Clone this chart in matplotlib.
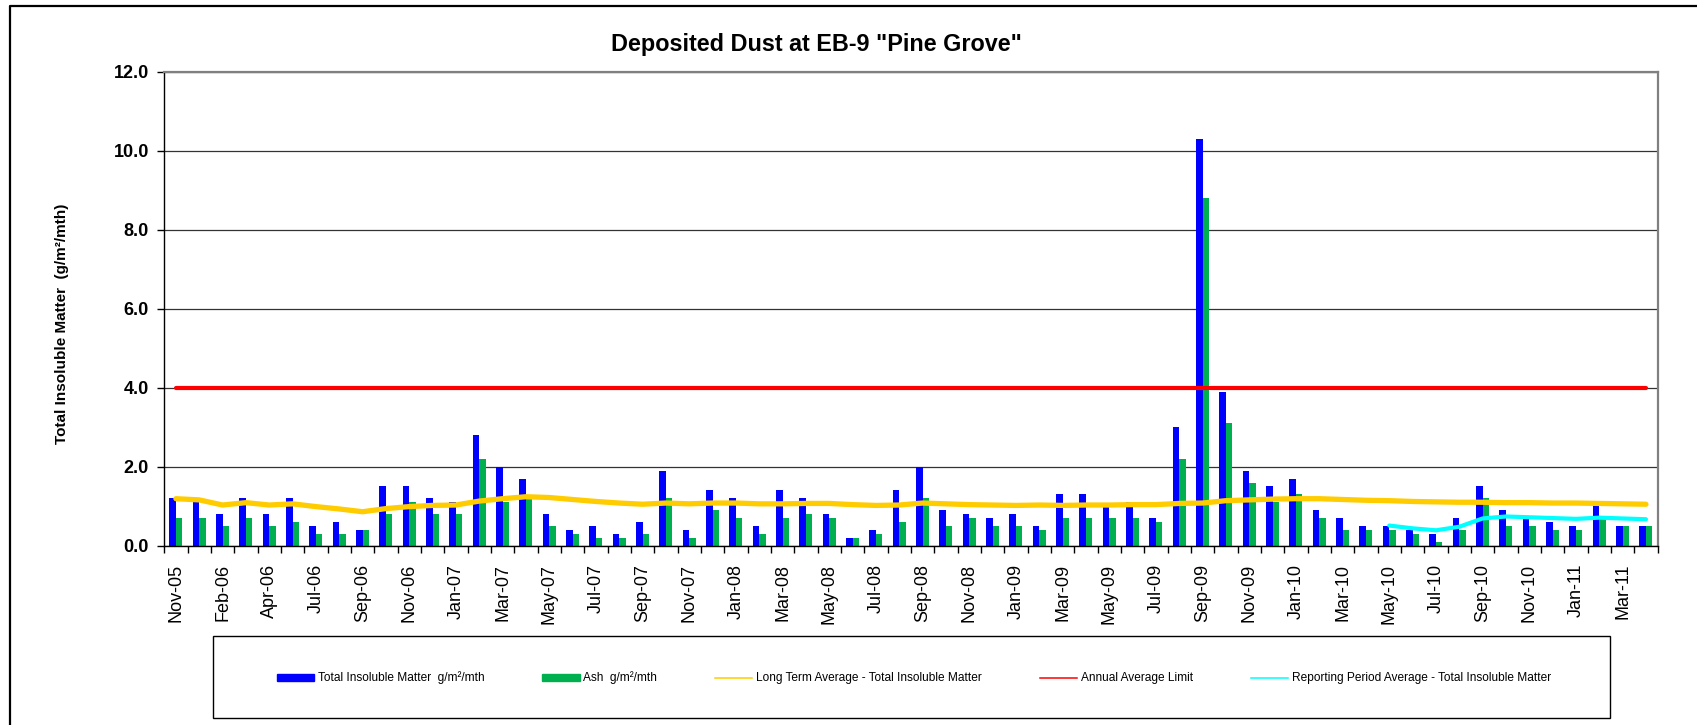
import matplotlib.pyplot as plt
from matplotlib.lines import Line2D
from matplotlib.patches import Rectangle
import numpy as np

# monthly samples (only every second one is labelled on the axis)
months = ["Nov-05", "Jan-06", "Feb-06", "Mar-06", "Apr-06", "Jun-06", "Jul-06", "Aug-06",
          "Sep-06", "Oct-06", "Nov-06", "Dec-06", "Jan-07", "Feb-07", "Mar-07", "Apr-07",
          "May-07", "Jun-07", "Jul-07", "Aug-07", "Sep-07", "Oct-07", "Nov-07", "Dec-07",
          "Jan-08", "Feb-08", "Mar-08", "Apr-08", "May-08", "Jun-08", "Jul-08", "Aug-08",
          "Sep-08", "Oct-08", "Nov-08", "Dec-08", "Jan-09", "Feb-09", "Mar-09", "Apr-09",
          "May-09", "Jun-09", "Jul-09", "Aug-09", "Sep-09", "Oct-09", "Nov-09", "Dec-09",
          "Jan-10", "Feb-10", "Mar-10", "Apr-10", "May-10", "Jun-10", "Jul-10", "Aug-10",
          "Sep-10", "Oct-10", "Nov-10", "Dec-10", "Jan-11", "Feb-11", "Mar-11", "Apr-11"]

tim = [1.2, 1.1, 0.8, 1.2, 0.8, 1.2, 0.5, 0.6, 0.4, 1.5, 1.5, 1.2, 1.1, 2.8, 2.0, 1.7,
       0.8, 0.4, 0.5, 0.3, 0.6, 1.9, 0.4, 1.4, 1.2, 0.5, 1.4, 1.2, 0.8, 0.2, 0.4, 1.4,
       2.0, 0.9, 0.8, 0.7, 0.8, 0.5, 1.3, 1.3, 1.0, 1.1, 0.7, 3.0, 10.3, 3.9, 1.9, 1.5,
       1.7, 0.9, 0.7, 0.5, 0.5, 0.4, 0.3, 0.7, 1.5, 0.9, 0.7, 0.6, 0.5, 1.0, 0.5, 0.5]

ash = [0.7, 0.7, 0.5, 0.7, 0.5, 0.6, 0.3, 0.3, 0.4, 0.8, 1.1, 0.8, 0.8, 2.2, 1.1, 1.2,
       0.5, 0.3, 0.2, 0.2, 0.3, 1.2, 0.2, 0.9, 0.7, 0.3, 0.7, 0.8, 0.7, 0.2, 0.3, 0.6,
       1.2, 0.5, 0.7, 0.5, 0.5, 0.4, 0.7, 0.7, 0.7, 0.7, 0.6, 2.2, 8.8, 3.1, 1.6, 1.1,
       1.3, 0.7, 0.4, 0.4, 0.4, 0.3, 0.1, 0.4, 1.2, 0.5, 0.5, 0.4, 0.4, 0.7, 0.5, 0.5]

long_term_avg = [1.19, 1.16, 1.03, 1.09, 1.03, 1.06, 0.99, 0.93, 0.86, 0.94, 0.99, 1.02,
                 1.03, 1.13, 1.19, 1.24, 1.22, 1.17, 1.12, 1.08, 1.05, 1.08, 1.06, 1.08,
                 1.08, 1.06, 1.06, 1.07, 1.07, 1.04, 1.02, 1.03, 1.08, 1.06, 1.04, 1.03,
                 1.02, 1.03, 1.02, 1.03, 1.03, 1.04, 1.04, 1.07, 1.08, 1.14, 1.16, 1.18,
                 1.19, 1.19, 1.17, 1.15, 1.14, 1.12, 1.11, 1.10, 1.10, 1.09, 1.09, 1.08,
                 1.08, 1.07, 1.06, 1.05]

limit = [4.0] * len(months)

# reporting period average starts at May-10 (index 52)
period_start = 52
period_avg = [0.51, 0.44, 0.39, 0.48, 0.69, 0.74, 0.72, 0.70, 0.68, 0.71, 0.69, 0.67]

x = np.arange(len(months))

fig = plt.figure(figsize=(16.97, 7.25), dpi=100)
ax = fig.add_axes([0.0968, 0.2473, 0.88, 0.6538])

w = 0.28
ax.bar(x - w / 2, tim, width=w, color="#0000FF", zorder=2)
ax.bar(x + w / 2, ash, width=w, color="#00B050", zorder=2)
ax.plot(x, long_term_avg, color="#FFCC00", lw=3.8, solid_capstyle="round", zorder=3)
ax.plot(x, limit, color="#FF0000", lw=3.0, solid_capstyle="round", zorder=3)
ax.plot(x[period_start:], period_avg, color="#00FFFF", lw=3.0,
        solid_capstyle="round", zorder=3)

ax.set_xlim(-0.5, len(months) - 0.5)
ax.set_ylim(0, 12)
ax.set_yticks(np.arange(0, 12.1, 2))
ax.set_yticklabels([f"{v:.1f}" for v in np.arange(0, 12.1, 2)],
                   fontsize=13, fontweight="bold", family="Liberation Sans")
ax.grid(True, axis="y", color="#333333", lw=0.9, zorder=0)

# ticks between categories, labels on every second category
ax.set_xticks(np.arange(-0.5, len(months), 1.0))
ax.set_xticklabels([])
ax.set_xticks(x[::2], minor=True)
ax.set_xticklabels(months[::2], minor=True, rotation=90, fontsize=13,
                   family="Liberation Sans")
ax.tick_params(axis="x", which="major", direction="out", length=5, width=1)
ax.tick_params(axis="x", which="minor", length=0, pad=13)
ax.tick_params(axis="y", direction="out", length=5, width=1, pad=6)

for s in ["top", "right"]:
    ax.spines[s].set_color("#808080")
    ax.spines[s].set_linewidth(1.6)
ax.spines["left"].set_linewidth(1.0)
ax.spines["bottom"].set_linewidth(1.0)

fig.text(816 / 1697, 1 - 44 / 725, 'Deposited Dust at EB-9 "Pine Grove"',
         ha="center", va="center", fontsize=16.8, fontweight="bold",
         family="Liberation Sans")
fig.text(62 / 1697, 1 - 324 / 725, "Total Insoluble Matter  (g/m\u00b2/mth)",
         ha="center", va="center", rotation=90, fontsize=11, fontweight="bold",
         family="Liberation Sans")

# legend with its own box
fig.patches.append(Rectangle((213 / 1697, 1 - 718 / 725), (1610 - 213) / 1697,
                             82 / 725, transform=fig.transFigure, fill=False,
                             edgecolor="black", lw=1.0))
handles = [
    Rectangle((0, 0), 1, 1, color="#0000FF"),
    Rectangle((0, 0), 1, 1, color="#00B050"),
    Line2D([], [], color="#FFCC00", lw=1.1),
    Line2D([], [], color="#FF0000", lw=1.1),
    Line2D([], [], color="#00FFFF", lw=1.1),
]
labels = ["Total Insoluble Matter  g/m\u00b2/mth", "Ash  g/m\u00b2/mth",
          "Long Term Average - Total Insoluble Matter", "Annual Average Limit",
          "Reporting Period Average - Total Insoluble Matter"]
fig.legend(handles, labels, loc="center", bbox_to_anchor=(914 / 1697, 1 - 678 / 725),
           ncol=5, frameon=False, handlelength=3.1, handleheight=0.5,
           handletextpad=0.33, columnspacing=4.85,
           prop={"family": "Liberation Sans", "size": 8.6})

# outer chart border (left and top edges visible)
fig.add_artist(Line2D([10 / 1697, 10 / 1697, 1.0], [0.0, 1 - 6 / 725, 1 - 6 / 725],
                      transform=fig.transFigure, color="black", lw=1.6))

fig.savefig("out.png", dpi=100)
